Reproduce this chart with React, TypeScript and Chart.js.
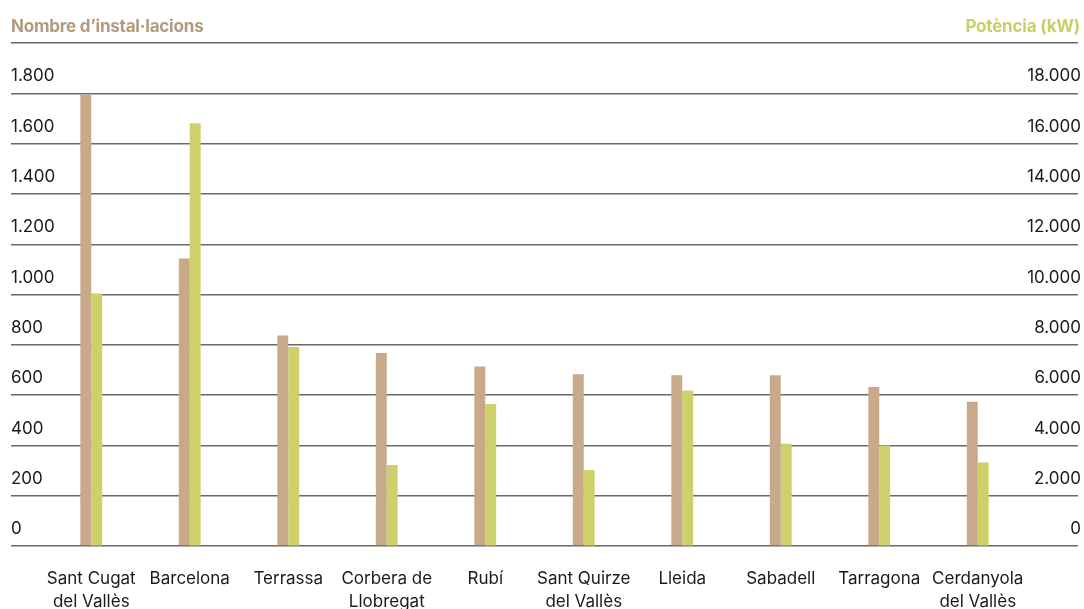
import React, { useEffect, useRef } from 'react';
import { Chart, registerables } from 'chart.js';

Chart.register(...registerables);

const categories: (string | string[])[] = [
  ['Sant Cugat', 'del Vallès'],
  'Barcelona',
  'Terrassa',
  ['Corbera de', 'Llobregat'],
  'Rubí',
  ['Sant Quirze', 'del Vallès'],
  'Lleida',
  'Sabadell',
  'Tarragona',
  ['Cerdanyola', 'del Vallès'],
];
const installations = [1793, 1143, 837, 767, 714, 683, 679, 679, 632, 574];
const powerKW = [10040, 16806, 7909, 3217, 5642, 3019, 6187, 4068, 4000, 3325];

const leftMax = 2000;
const leftStep = 200;
const rightMax = 20000;
const rightStep = 2000;

const leftTitle = 'Nombre d’instal·lacions';
const rightTitle = 'Potència (kW)';

const BROWN = '#c8aa8b';
const GREEN = '#cfd06c';
const BROWN_TEXT = '#b39a7e';
const GREEN_TEXT = '#c9cf68';
const FONT = 'Inter, "Open Sans", sans-serif';

const fmt = (v: number) => String(v).replace(/\B(?=(\d{3})+(?!\d))/g, '.');

const xInset = {
  id: 'xInset',
  afterLayout(chart: any) {
    const x = chart.scales.x;
    const area = chart.chartArea;
    x.left = area.left + 31;
    x.right = area.right - 51;
    x.width = x.right - x.left;
    x.configure();
    x._labelItems = null;
  },
};

export default function App() {
  const ref = useRef<HTMLCanvasElement>(null);
  useEffect(() => {
    if (!ref.current) return;
    const chart = new Chart(ref.current, {
      type: 'bar',
      data: {
        labels: categories,
        datasets: [
          {
            label: leftTitle,
            data: installations,
            backgroundColor: BROWN,
            yAxisID: 'y',
            categoryPercentage: 0.222,
            barPercentage: 1,
          },
          {
            label: rightTitle,
            data: powerKW,
            backgroundColor: GREEN,
            yAxisID: 'y1',
            categoryPercentage: 0.222,
            barPercentage: 1,
          },
        ],
      },
      options: {
        animation: false,
        responsive: true,
        maintainAspectRatio: false,
        layout: { padding: { left: 11, right: 0, top: 43, bottom: 0 } },
        plugins: { legend: { display: false }, tooltip: { enabled: false }, title: { display: false } },
        scales: {
          x: {
            grid: { display: false },
            border: { display: false },
            afterFit: (s: any) => {
              s.height = 63;
            },
            ticks: {
              color: '#1a1a1a',
              padding: 13,
              maxRotation: 0,
              autoSkip: false,
              font: { family: FONT, size: 17, lineHeight: 1.35 },
            },
          },
          y: {
            position: 'left',
            min: 0,
            max: leftMax,
            border: { display: false },
            grid: { color: '#686868', lineWidth: 1.4, drawTicks: false },
            ticks: {
              stepSize: leftStep,
              mirror: true,
              padding: 0,
              labelOffset: -17,
              color: '#1a1a1a',
              font: { family: FONT, size: 17 },
              callback: (v: any) => (v >= leftMax ? '' : fmt(v)),
            },
          },
          y1: {
            position: 'right',
            min: 0,
            max: rightMax,
            border: { display: false },
            grid: { drawOnChartArea: false, drawTicks: false },
            ticks: {
              stepSize: rightStep,
              mirror: true,
              padding: 3,
              labelOffset: -17,
              color: '#1a1a1a',
              font: { family: FONT, size: 17 },
              callback: (v: any) => (v >= rightMax ? '' : fmt(v)),
            },
          },
        },
      },
      plugins: [xInset],
    });
    return () => chart.destroy();
  }, []);

  const titleStyle: React.CSSProperties = {
    position: 'absolute',
    top: 16,
    fontFamily: FONT,
    fontWeight: 700,
    fontSize: 17,
    letterSpacing: -0.2,
    whiteSpace: 'nowrap',
  };

  return (
    <div style={{ position: 'fixed', left: 0, top: 0, width: 1084, height: 609, background: '#fff' }}>
      <canvas ref={ref} />
      <div style={{ ...titleStyle, left: 11, color: BROWN_TEXT }}>{leftTitle}</div>
      <div style={{ ...titleStyle, right: 4, color: GREEN_TEXT }}>{rightTitle}</div>
    </div>
  );
}
